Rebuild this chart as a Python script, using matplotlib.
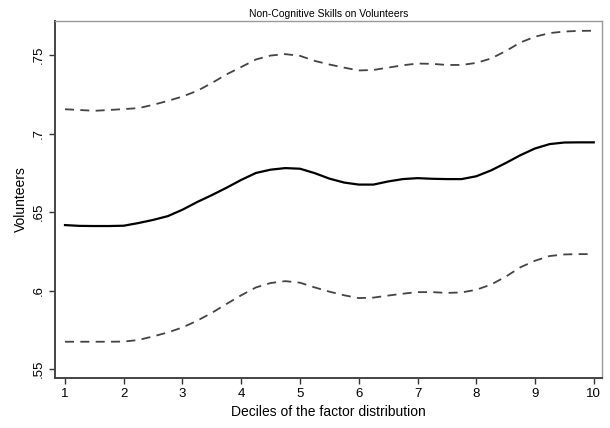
import numpy as np
import matplotlib.pyplot as plt

plt.rcParams['font.family'] = ['Liberation Sans', 'DejaVu Sans']

# values, on a quarter-decile grid
decile = [1.00, 1.25, 1.50, 1.75, 2.00, 2.25, 2.50, 2.75, 3.00, 3.25, 3.50, 3.75,
          4.00, 4.25, 4.50, 4.75, 5.00, 5.25, 5.50, 5.75, 6.00, 6.25, 6.50, 6.75,
          7.00, 7.25, 7.50, 7.75, 8.00, 8.25, 8.50, 8.75, 9.00, 9.25, 9.50, 9.75, 10.00]
estimate = [.6417, .6412, .6411, .6411, .6413, .6430, .6450, .6474, .6515, .6564, .6608, .6655,
            .6705, .6749, .6770, .6780, .6776, .6748, .6713, .6688, .6675, .6675, .6695, .6710,
            .6716, .6712, .6710, .6710, .6728, .6765, .6812, .6862, .6905, .6933, .6943, .6944, .6944]
upper = [.7155, .7150, .7145, .7150, .7156, .7162, .7183, .7208, .7236, .7272, .7322, .7377,
         .7424, .7472, .7497, .7506, .7495, .7463, .7440, .7420, .7402, .7405, .7420, .7435,
         .7446, .7444, .7437, .7437, .7450, .7478, .7525, .7580, .7617, .7640, .7650, .7654, .7655]
lower = [.5674, .5674, .5674, .5674, .5675, .5685, .5708, .5733, .5765, .5808, .5858, .5915,
         .5970, .6020, .6048, .6060, .6050, .6020, .5993, .5970, .5952, .5955, .5968, .5980,
         .5990, .5990, .5985, .5988, .6005, .6038, .6088, .6148, .6190, .6220, .6230, .6232, .6232]

fig = plt.figure(figsize=(6.1, 4.28), dpi=100)
ax = fig.add_axes([55/610, 1 - 378/428, 547/610, 357/428])

ax.plot(decile, upper, '--', color='#444444', lw=1.3, dashes=(5, 3.5))
ax.plot(decile, estimate, '-', color='black', lw=1.6)
ax.plot(decile, lower, '--', color='#444444', lw=1.3, dashes=(5, 3.5))

ax.set_xlim(0.83, 10.14)
ax.set_ylim(0.5443, 0.7717)
ax.set_xticks(range(1, 11))
ax.set_yticks([.55, .6, .65, .7, .75])
ax.set_yticklabels(['.55', '.6', '.65', '.7', '.75'], rotation=90, va='center')
ax.tick_params(labelsize=9.5, color='#333333', length=4, width=1)

for side in ['top', 'right']:
    ax.spines[side].set_color('#999999')
    ax.spines[side].set_linewidth(1)
for side in ['left', 'bottom']:
    ax.spines[side].set_color('#444444')
    ax.spines[side].set_linewidth(1.4)

ax.set_xlabel('Deciles of the factor distribution', fontsize=10, labelpad=3)
ax.set_ylabel('Volunteers', fontsize=10, labelpad=3)
ax.set_title('Non-Cognitive Skills on Volunteers', fontsize=7.5, pad=3)

fig.savefig('out.png')
